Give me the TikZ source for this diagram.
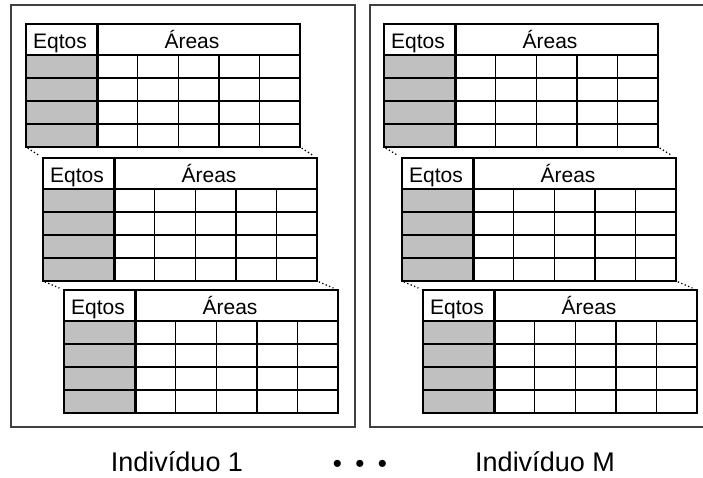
\documentclass[tikz,border=0pt]{standalone}
\usepackage{fontspec}
\setmainfont{Liberation Sans}
\definecolor{cinza}{HTML}{C0C0C0}
\definecolor{moldura}{HTML}{404040}

% tabela de equipamentos x áreas: #1 nome, (#2,#3) canto superior esquerdo
\newcommand{\tabela}[3]{%
  \begin{scope}[shift={(#2,#3)}]
    \fill[cinza] (0,31) rectangle (71,123);
    \foreach \y in {54,77,100} \draw[grade] (0,\y) -- (274,\y);
    \foreach \x in {111.6,152.2,192.8,233.4} \draw[grade] (\x,31) -- (\x,123);
    \draw[borda]   (0,31) -- (274,31);
    \draw[divisao] (71,0) -- (71,123);
    \draw[borda]   (0,0) rectangle (274,123);
    \node[cabecalho] (#1-eq) at (34,24)  {Eqtos};
    \node[cabecalho] (#1-ar) at (166,24) {Áreas};
    \coordinate (#1-se) at (0,0);
    \coordinate (#1-sd) at (274,0);
    \coordinate (#1-ie) at (0,123);
    \coordinate (#1-id) at (274,123);
  \end{scope}}

\begin{document}
\begin{tikzpicture}[x=1pt, y=-1pt,
    grade/.style={line width=1.4pt},
    borda/.style={line width=2pt},
    divisao/.style={line width=3pt},
    caixa/.style={line width=1.8pt, draw=moldura},
    pontilhado/.style={line width=1.3pt, dash pattern=on 1.3pt off 2.4pt,
                       shorten <=2pt, shorten >=5pt},
    cabecalho/.style={anchor=base, inner sep=0pt, font=\fontsize{21}{21}\selectfont},
    legenda/.style={anchor=base, inner sep=0pt, font=\fontsize{27}{27}\selectfont}]

\useasboundingbox (0,0) rectangle (703,477);

% ── Indivíduo 1 ───────────────────────────────────────────────
\draw[caixa] (11,5) rectangle (355,427);
\tabela{a1}{26}{24}
\tabela{a2}{43}{158}
\tabela{a3}{64}{290}
\draw[pontilhado] (a1-ie) -- (a2-se);
\draw[pontilhado] (a1-id) -- (a2-sd);
\draw[pontilhado] (a2-ie) -- (a3-se);
\draw[pontilhado] (a2-id) -- (a3-sd);

% ── Indivíduo M (caixa cortada à direita) ─────────────────────
\draw[caixa] (706,5) -- (370,5) -- (370,427) -- (706,427);
\tabela{m1}{384}{24}
\tabela{m2}{402}{158}
\tabela{m3}{423}{290}
\draw[pontilhado] (m1-ie) -- (m2-se);
\draw[pontilhado] (m1-id) -- (m2-sd);
\draw[pontilhado] (m2-ie) -- (m3-se);
\draw[pontilhado] (m2-id) -- (m3-sd);

% ── Legendas ──────────────────────────────────────────────────
\node[legenda] (ind1) at (177,471) {Indivíduo 1};
\node[anchor=base, inner sep=0pt, font=\fontsize{26}{26}\selectfont]
    (reticencias) at (360,472) {•\hspace{13.4pt}•\hspace{13.4pt}•};
\node[legenda] (indM) at (545,471) {Indivíduo M};

\end{tikzpicture}
\end{document}
